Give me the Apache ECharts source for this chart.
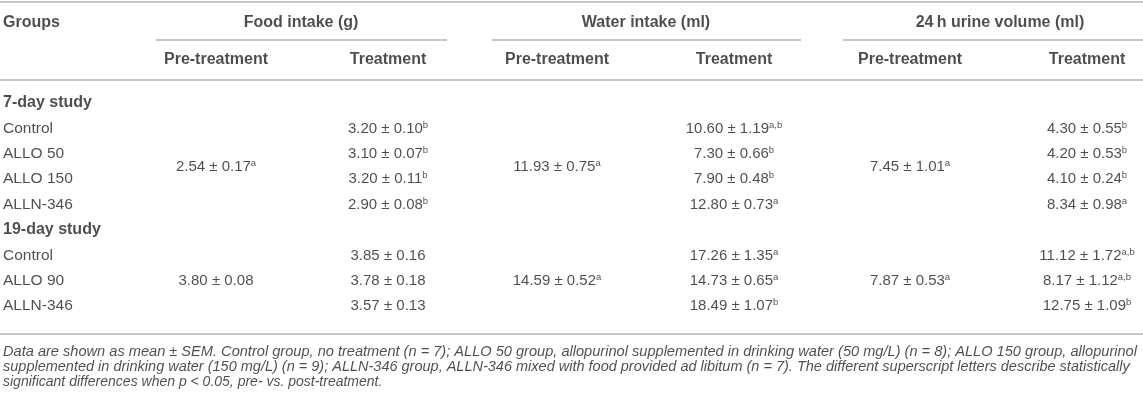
<!DOCTYPE html>
<html lang="en">
<head>
<meta charset="UTF-8">
<title>Food, water and urine</title>
<script src="https://cdn.jsdelivr.net/npm/echarts@6/dist/echarts.min.js"></script>
<style>
  html, body { margin: 0; padding: 0; background: #fff; }
  #table { width: 1143px; height: 403px; }
</style>
</head>
<body>
<div id="table"></div>
<script type="text/javascript">
// row labels of the table body (bold = study heading)
var groups = ['7-day study', 'Control', 'ALLO 50', 'ALLO 150', 'ALLN-346',
              '19-day study', 'Control', 'ALLO 90', 'ALLN-346'];
var sectionRows = [0, 5];
var measures = ['Food intake (g)', 'Water intake (ml)', '24\u2009h urine volume (ml)'];
var phases = ['Pre-treatment', 'Treatment'];

// pre-treatment: one pooled value per study (7-day, 19-day)
var foodPreMean = [2.54, 3.80];
var foodPreSem = [0.17, 0.08];
var foodPreSup = ['a', ''];
var waterPreMean = [11.93, 14.59];
var waterPreSem = [0.75, 0.52];
var waterPreSup = ['a', 'a'];
var urinePreMean = [7.45, 7.87];
var urinePreSem = [1.01, 0.53];
var urinePreSup = ['a', 'a'];

// treatment: Control, ALLO 50, ALLO 150, ALLN-346, Control, ALLO 90, ALLN-346
var foodTreatMean = [3.20, 3.10, 3.20, 2.90, 3.85, 3.78, 3.57];
var foodTreatSem = [0.10, 0.07, 0.11, 0.08, 0.16, 0.18, 0.13];
var foodTreatSup = ['b', 'b', 'b', 'b', '', '', ''];
var waterTreatMean = [10.60, 7.30, 7.90, 12.80, 17.26, 14.73, 18.49];
var waterTreatSem = [1.19, 0.66, 0.48, 0.73, 1.35, 0.65, 1.07];
var waterTreatSup = ['a,b', 'b', 'b', 'a', 'a', 'a', 'b'];
var urineTreatMean = [4.30, 4.20, 4.10, 8.34, 11.12, 8.17, 12.75];
var urineTreatSem = [0.55, 0.53, 0.24, 0.98, 1.72, 1.12, 1.09];
var urineTreatSup = ['b', 'b', 'b', 'a', 'a,b', 'a,b', 'b'];

var footnote = [
  'Data are shown as mean \u00b1 SEM. Control group, no treatment (n = 7); ALLO 50 group, allopurinol supplemented in drinking water (50 mg/L) (n = 8); ALLO 150 group, allopurinol',
  'supplemented in drinking water (150 mg/L) (n = 9); ALLN-346 group, ALLN-346 mixed with food provided ad libitum (n = 7). The different superscript letters describe statistically',
  'significant differences when p < 0.05, pre- vs. post-treatment.'
];

// ---- layout (pixels) ----
var W = 1143, H = 403;
var FONT = "'Liberation Sans', Arial, Helvetica, sans-serif";
var INK = '#231f20';
var RULE = '#b3b3b3';
var colX = [216, 388, 557, 734, 910, 1087];
var headX = [301, 646, 1000];
var headY = [23, 60];
var rowY = function (i) { return 103 + i * 25.4; };
var treatRows = [1, 2, 3, 4, 6, 7, 8];
var studyRows = [[1, 4], [6, 8]];
var underline = [[156, 447], [492, 801], [843, W]];
var ruleY = { top: 1.5, sub: 39.5, head: 80, bottom: 334 };
var noteY = [352, 367, 382];
var noteSize = [14.6, 14.5, 14];

function cell(mean, sem, sup) {
  return mean.toFixed(2) + ' \u00b1 ' + sem.toFixed(2) + (sup ? '{sup|' + sup + '}' : '');
}

var pre = [[foodPreMean, foodPreSem, foodPreSup],
           [waterPreMean, waterPreSem, waterPreSup],
           [urinePreMean, urinePreSem, urinePreSup]];
var treat = [[foodTreatMean, foodTreatSem, foodTreatSup],
             [waterTreatMean, waterTreatSem, waterTreatSup],
             [urineTreatMean, urineTreatSem, urineTreatSup]];

var groupData = [{ name: 'Groups', value: [3, headY[0]], label: { fontWeight: 'bold', fontSize: 16 } }];
groups.forEach(function (g, i) {
  var bold = sectionRows.indexOf(i) >= 0;
  groupData.push({ name: g, value: [3, rowY(i)],
    label: { fontWeight: bold ? 'bold' : 'normal', fontSize: bold ? 16 : 15.5 } });
});

var headData = [];
measures.forEach(function (m, k) {
  headData.push({ name: m, value: [headX[k], headY[0]] });
  phases.forEach(function (p, j) {
    headData.push({ name: p, value: [colX[k * 2 + j], headY[1]] });
  });
});

var cellData = [];
pre.forEach(function (col, k) {
  studyRows.forEach(function (r, s) {
    cellData.push({ name: cell(col[0][s], col[1][s], col[2][s]),
      value: [colX[k * 2], (rowY(r[0]) + rowY(r[1])) / 2] });
  });
});
treat.forEach(function (col, k) {
  col[0].forEach(function (v, i) {
    cellData.push({ name: cell(v, col[1][i], col[2][i]),
      value: [colX[k * 2 + 1], rowY(treatRows[i])] });
  });
});

var noteData = footnote.map(function (t, i) {
  return { name: t, value: [3, noteY[i]], label: { fontSize: noteSize[i] } };
});

var rules = [
  [{ coord: [0, ruleY.top] }, { coord: [W, ruleY.top] }],
  [{ coord: [0, ruleY.head] }, { coord: [W, ruleY.head] }],
  [{ coord: [0, ruleY.bottom] }, { coord: [W, ruleY.bottom] }]
];
underline.forEach(function (u) {
  rules.push([{ coord: [u[0], ruleY.sub] }, { coord: [u[1], ruleY.sub] }]);
});

function textSeries(name, data, align, extra) {
  var label = {
    show: true,
    position: 'inside',
    align: align,
    verticalAlign: 'middle',
    color: INK,
    fontFamily: FONT,
    fontSize: 15,
    lineHeight: 17,
    formatter: function (p) { return p.name; },
    rich: {
      sup: { fontSize: 9.5, lineHeight: 9, verticalAlign: 'top', color: INK, fontFamily: FONT }
    }
  };
  for (var k in extra) label[k] = extra[k];
  return {
    name: name,
    type: 'scatter',
    symbolSize: 0,
    silent: true,
    data: data,
    label: label
  };
}

var myChart = echarts.init(document.getElementById('table'), null, { renderer: 'canvas' });
var series = [
  textSeries('groups', groupData, 'left', {}),
  textSeries('heads', headData, 'center', { fontWeight: 'bold', fontSize: 16 }),
  textSeries('cells', cellData, 'center', {}),
  textSeries('note', noteData, 'left', { fontStyle: 'italic', fontSize: 14, lineHeight: 15 })
];
series[0].markLine = {
  silent: true,
  symbol: ['none', 'none'],
  label: { show: false },
  animation: false,
  lineStyle: { type: 'solid', color: RULE, width: 1.6 },
  data: rules
};

myChart.setOption({
  animation: false,
  grid: { left: 0, right: 0, top: 0, bottom: 0 },
  xAxis: { type: 'value', min: 0, max: W, show: false },
  yAxis: { type: 'value', min: 0, max: H, inverse: true, show: false },
  series: series
});
</script>
</body>
</html>
